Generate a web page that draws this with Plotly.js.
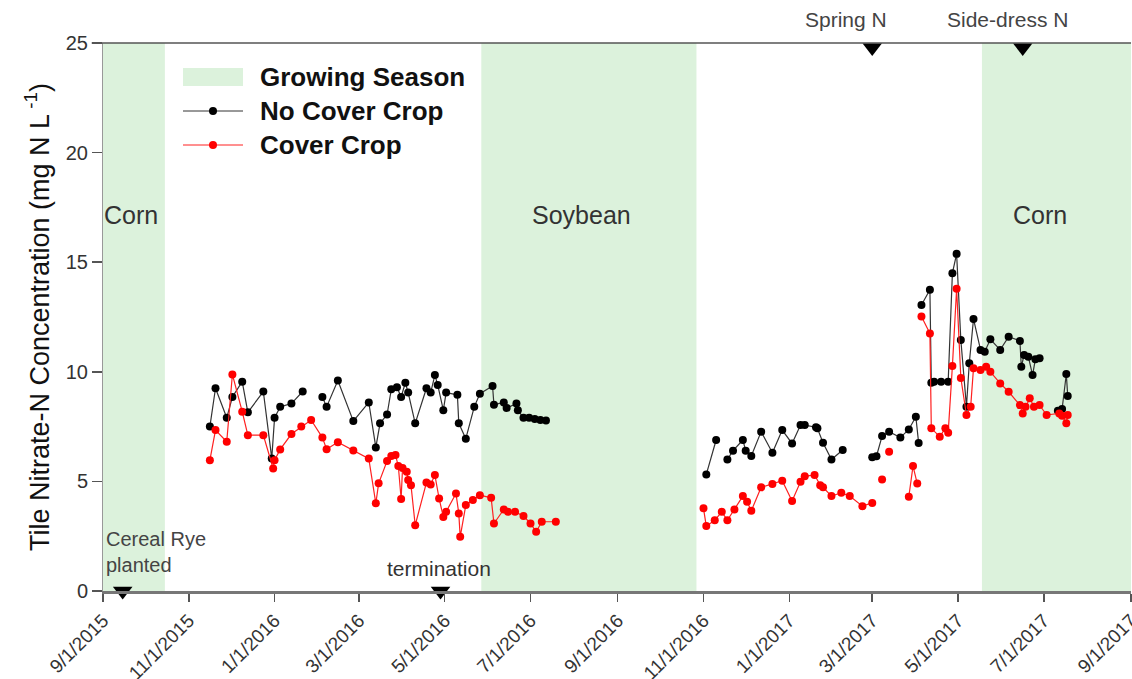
<!DOCTYPE html>
<html><head><meta charset="utf-8">
<script src="https://cdn.plot.ly/plotly-3.0.1.min.js"></script>
<style>html,body{margin:0;padding:0;background:#fff}#chart{width:1132px;height:679px}</style>
</head><body><div id="chart"></div>
<script>
// ---------- data ----------
var noCoverDates = [
 '2015-11-16','2015-11-20','2015-11-28','2015-12-02','2015-12-09','2015-12-13','2015-12-24','2015-12-30','2016-01-01','2016-01-05','2016-01-13','2016-01-21',
 '2016-01-28',
 '2016-02-04','2016-02-07','2016-02-15','2016-02-26','2016-03-08','2016-03-13','2016-03-16','2016-03-21','2016-03-24','2016-03-28','2016-03-31','2016-04-03',
 '2016-04-05','2016-04-10','2016-04-18','2016-04-21','2016-04-24','2016-04-26','2016-04-30','2016-05-02','2016-05-10','2016-05-11','2016-05-16','2016-05-22',
 '2016-05-26','2016-06-04','2016-06-05','2016-06-12','2016-06-14','2016-06-21','2016-06-22','2016-06-26','2016-06-30','2016-07-04','2016-07-08','2016-07-12',
 '2016-09-01',
 '2016-11-03','2016-11-10',
 '2016-11-14',
 '2016-11-18','2016-11-22','2016-11-29','2016-12-01','2016-12-05','2016-12-12','2016-12-20','2016-12-27','2017-01-03','2017-01-09','2017-01-12','2017-01-20',
 '2017-01-21','2017-01-25','2017-01-31','2017-02-08',
 '2017-02-20',
 '2017-03-01','2017-03-04','2017-03-08','2017-03-13','2017-03-21','2017-03-27','2017-04-01','2017-04-03',
 '2017-04-04',
 '2017-04-05','2017-04-11','2017-04-12','2017-04-14','2017-04-19','2017-04-24','2017-04-27','2017-04-30','2017-05-03','2017-05-07','2017-05-09','2017-05-12',
 '2017-05-17','2017-05-20','2017-05-24','2017-05-31','2017-06-06','2017-06-14','2017-06-15','2017-06-17','2017-06-20','2017-06-23','2017-06-25','2017-06-28',
 '2017-07-05',
 '2017-07-11','2017-07-14','2017-07-17','2017-07-18'
];
var noCoverValues = [
 7.5,9.25,7.9,8.85,9.55,8.15,9.1,6.05,7.9,8.4,8.55,9.1,
 null,
 8.85,8.4,9.6,7.75,8.6,6.55,7.65,8.05,9.2,9.3,8.85,9.5,
 9.05,7.65,9.25,9.05,9.85,9.4,8.25,9.05,8.95,7.65,6.95,8.4,
 9.0,9.35,8.5,8.6,8.35,8.55,8.25,7.9,7.9,7.85,7.8,7.78,
 null,
 5.32,6.89,
 null,
 6.0,6.4,6.89,6.4,6.16,7.27,6.31,7.34,6.73,7.57,7.57,7.47,
 7.42,6.76,6.0,6.43,
 null,
 6.1,6.15,7.07,7.27,7.0,7.37,7.95,6.75,
 null,
 13.05,13.74,9.5,9.55,9.55,9.55,14.5,15.38,11.45,8.41,10.39,12.41,
 11.0,10.92,11.48,11.0,11.6,11.41,10.23,10.77,10.69,9.85,10.57,10.62,
 null,
 8.22,8.3,9.9,8.9
];
var coverDates = [
 '2015-11-16','2015-11-20','2015-11-28','2015-12-02','2015-12-09','2015-12-13','2015-12-24','2015-12-31','2016-01-01','2016-01-05','2016-01-13','2016-01-20',
 '2016-01-27','2016-02-04','2016-02-07','2016-02-15','2016-02-26','2016-03-08','2016-03-13','2016-03-15','2016-03-21','2016-03-24','2016-03-27','2016-03-29',
 '2016-03-31','2016-04-01','2016-04-04','2016-04-05','2016-04-07','2016-04-10','2016-04-18','2016-04-21','2016-04-24','2016-04-27','2016-04-30','2016-05-02',
 '2016-05-09','2016-05-11','2016-05-12','2016-05-16','2016-05-21','2016-05-26','2016-06-03','2016-06-05','2016-06-12','2016-06-15','2016-06-20','2016-06-26',
 '2016-07-01','2016-07-05','2016-07-09','2016-07-19',
 '2016-09-01',
 '2016-11-01','2016-11-03','2016-11-09','2016-11-14','2016-11-18','2016-11-23','2016-11-29','2016-12-02','2016-12-05','2016-12-12','2016-12-20','2016-12-27',
 '2017-01-03','2017-01-09','2017-01-12','2017-01-19','2017-01-23','2017-01-25','2017-01-31','2017-02-07','2017-02-13','2017-02-22','2017-03-01',
 '2017-03-05','2017-03-08','2017-03-10','2017-03-13','2017-03-20',
 '2017-03-27','2017-03-30','2017-04-02',
 '2017-04-04',
 '2017-04-05','2017-04-11','2017-04-12','2017-04-18','2017-04-22','2017-04-24','2017-04-27','2017-04-30','2017-05-03','2017-05-07','2017-05-10','2017-05-12',
 '2017-05-17','2017-05-21','2017-05-24','2017-05-31','2017-06-06','2017-06-14','2017-06-16','2017-06-18','2017-06-21','2017-06-24','2017-06-28','2017-07-03',
 '2017-07-12','2017-07-14','2017-07-17','2017-07-18'
];
var coverValues = [
 5.97,7.34,6.81,9.88,8.18,7.11,7.11,5.59,5.97,6.46,7.16,7.5,
 7.8,7.0,6.47,6.79,6.41,6.04,4.0,4.91,5.93,6.16,6.2,5.7,
 4.2,5.61,5.44,5.06,4.83,3.0,4.95,4.86,5.29,4.22,3.38,3.61,
 4.45,3.54,2.47,3.92,4.15,4.37,4.25,3.08,3.72,3.61,3.61,3.42,
 3.08,2.7,3.16,3.16,
 null,
 3.77,2.96,3.23,3.61,3.23,3.72,4.33,4.07,3.66,4.73,4.88,5.03,
 4.11,4.98,5.24,5.29,4.83,4.73,4.33,4.48,4.33,3.87,4.02,
 null,5.09,null,6.35,null,
 4.3,5.7,4.9,
 null,
 12.52,11.75,7.42,7.04,7.42,7.22,10.26,13.79,9.72,8.03,8.41,10.16,
 10.08,10.23,10.0,9.47,9.09,8.48,8.1,8.4,8.79,8.41,8.48,8.03,
 8.1,8.0,7.65,8.03
];
var seasonStart = ['2015-09-01','2016-05-27','2017-05-18'];
var seasonEnd   = ['2015-10-15','2016-10-27','2017-09-01'];
var cropNames = ['Corn','Soybean','Corn'];
var cropLabelDates = ['2015-09-21','2016-08-06','2017-06-28'];
var eventNames = ['Cereal Rye<br>planted','termination','Spring N','Side-dress N'];
var eventDates = ['2015-09-15','2016-04-28','2017-03-01','2017-06-16'];
var eventLevels = [0,0,24.8,24.8];
var tickDates = ['2015-09-01','2015-11-01','2016-01-01','2016-03-01','2016-05-01','2016-07-01','2016-09-01','2016-11-01','2017-01-01','2017-03-01','2017-05-01','2017-07-01','2017-09-01'];
var tickLabels = ['9/1/2015','11/1/2015','1/1/2016','3/1/2016','5/1/2016','7/1/2016','9/1/2016','11/1/2016','1/1/2017','3/1/2017','5/1/2017','7/1/2017','9/1/2017'];
var legendNames = ['Growing Season','No Cover Crop','Cover Crop'];

// ---------- styling ----------
var FONT = 'Liberation Sans, Arial, sans-serif';
var GREEN = '#dcf2dc';

var traces = [
  {x: noCoverDates, y: noCoverValues, type: 'scatter', mode: 'lines+markers', name: legendNames[1],
   line: {color: '#333333', width: 1.2}, marker: {color: '#000000', size: 8}, showlegend: false, connectgaps: false},
  {x: coverDates, y: coverValues, type: 'scatter', mode: 'lines+markers', name: legendNames[2],
   line: {color: '#ff2020', width: 1.2}, marker: {color: '#ff0000', size: 8}, showlegend: false, connectgaps: false},
  {x: eventDates, y: eventLevels, type: 'scatter', mode: 'markers', showlegend: false, cliponaxis: false,
   marker: {symbol: 'triangle-down', size: 17, color: '#000000'}, hoverinfo: 'skip'}
];

var shapes = [];
for (var i = 0; i < seasonStart.length; i++) {
  shapes.push({type: 'rect', xref: 'x', yref: 'paper', x0: seasonStart[i], x1: seasonEnd[i], y0: 0, y1: 1,
    fillcolor: GREEN, line: {width: 0}, layer: 'below'});
}
// top frame line
shapes.push({type: 'line', xref: 'paper', yref: 'paper', x0: -0.011, x1: 1, y0: 1, y1: 1, line: {color: '#555', width: 1.5}});

// manual legend (paper coords)
function px2x(p) { return (p - 103) / 1028; }
function py2y(p) { return (591 - p) / 548; }
shapes.push({type: 'rect', xref: 'paper', yref: 'paper', x0: px2x(183), x1: px2x(243), y0: py2y(86), y1: py2y(68),
  fillcolor: GREEN, line: {width: 0}});
var legColors = [['#333333', '#000000'], ['#ff2020', '#ff0000']];
var legY = [111, 145];
for (var j = 0; j < 2; j++) {
  shapes.push({type: 'line', xref: 'paper', yref: 'paper', x0: px2x(183), x1: px2x(243), y0: py2y(legY[j]), y1: py2y(legY[j]),
    line: {color: legColors[j][0], width: 1}});
  shapes.push({type: 'circle', xref: 'paper', yref: 'paper', xsizemode: 'pixel', ysizemode: 'pixel',
    xanchor: px2x(213), yanchor: py2y(legY[j]), x0: -4, x1: 4, y0: -4, y1: 4,
    fillcolor: legColors[j][1], line: {width: 0}});
}

var annotations = [];
var legTextY = [77, 111, 145];
for (var k = 0; k < 3; k++) {
  annotations.push({xref: 'paper', yref: 'paper', x: px2x(258), y: py2y(legTextY[k]), xanchor: 'left', yanchor: 'middle',
    text: '<b>' + legendNames[k] + '</b>', showarrow: false, font: {family: FONT, size: 26, color: '#111'}});
}
for (var c = 0; c < cropNames.length; c++) {
  annotations.push({xref: 'x', yref: 'y', x: cropLabelDates[c], y: 17.16, yanchor: 'middle', text: cropNames[c], showarrow: false,
    font: {family: FONT, size: 25, color: '#333'}});
}
// event labels
annotations.push({xref: 'x', yref: 'y', x: '2015-09-02', y: 1.8, xanchor: 'left', yanchor: 'middle', align: 'left', text: eventNames[0],
  showarrow: false, font: {family: FONT, size: 20, color: '#444'}});
annotations.push({xref: 'x', yref: 'y', x: '2016-04-27', y: 1.02, yanchor: 'middle', text: eventNames[1],
  showarrow: false, font: {family: FONT, size: 21, color: '#333'}});
annotations.push({xref: 'x', yref: 'paper', x: '2017-02-10', y: py2y(20), yanchor: 'middle', text: eventNames[2],
  showarrow: false, font: {family: FONT, size: 21, color: '#444'}});
annotations.push({xref: 'x', yref: 'paper', x: '2017-06-05', y: py2y(20), yanchor: 'middle', text: eventNames[3],
  showarrow: false, font: {family: FONT, size: 21, color: '#444'}});

var layout = {
  width: 1132, height: 679,
  margin: {l: 103, r: 1, t: 43, b: 88},
  paper_bgcolor: '#ffffff', plot_bgcolor: '#ffffff',
  font: {family: FONT, color: '#333'},
  showlegend: false,
  xaxis: {
    type: 'date', range: ['2015-09-01', '2017-09-01'],
    tickvals: tickDates, ticktext: tickLabels, tickangle: -45,
    tickfont: {family: FONT, size: 19, color: '#333'},
    ticks: 'outside', ticklen: 8, tickcolor: '#555', tickwidth: 1.5,
    ticklabeloverflow: 'allow',
    showline: true, linecolor: '#777', linewidth: 3,
    showgrid: false, zeroline: false, automargin: false
  },
  yaxis: {
    range: [0, 25], tickvals: [0, 5, 10, 15, 20, 25],
    tickfont: {family: FONT, size: 20, color: '#333'},
    ticks: 'outside', ticklen: 10, tickcolor: '#555', tickwidth: 1.5,
    showline: true, linecolor: '#999', linewidth: 1,
    showgrid: false, zeroline: false, automargin: false,
    title: {text: 'Tile Nitrate-N Concentration (mg N L<sup> -1</sup>)', font: {family: FONT, size: 27, color: '#111'}, standoff: 8}
  },
  shapes: shapes,
  annotations: annotations
};

Plotly.newPlot('chart', traces, layout, {displayModeBar: false, staticPlot: true});
</script></body></html>
